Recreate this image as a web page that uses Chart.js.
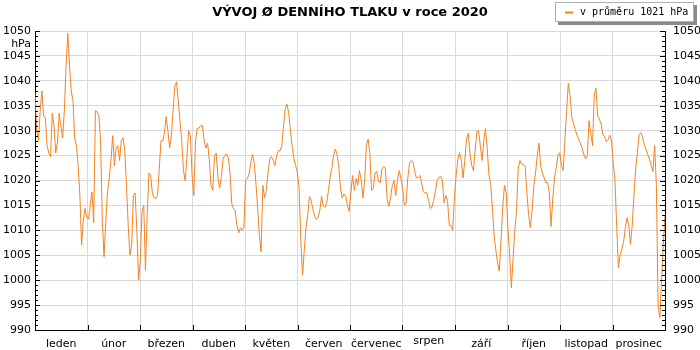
<!DOCTYPE html>
<html lang="cs">
<head>
<meta charset="utf-8">
<title>Vývoj denního tlaku 2020</title>
<script src="https://cdn.jsdelivr.net/npm/chart.js@4.4.1/dist/chart.umd.min.js"></script>
<style>
  html, body { margin: 0; padding: 0; background: #fff; }
  canvas { display: block; }
</style>
</head>
<body>
<canvas id="chart" width="700" height="350"></canvas>
<script>
const TITLE = 'VÝVOJ Ø DENNÍHO TLAKU v roce 2020';
const UNIT = 'hPa';
const AVERAGE = 1021;

const MONTHS = ['leden', 'únor', 'březen', 'duben', 'květen', 'červen',
    'červenec', 'srpen', 'září', 'říjen', 'listopad', 'prosinec'];

const PRESSURE_TICKS = [990, 995, 1000, 1005, 1010, 1015, 1020, 1025, 1030, 1035, 1040, 1045, 1050];

// daily mean pressure, 1 Jan .. 31 Dec 2020 (366 days)
const PRESSURE = [
    1037.5, 1030, 1028, 1034, 1038, 1033, 1032.5, 1027, 1025.5, 1024.8,
    1033.5, 1031, 1025.5, 1027.7, 1033.5, 1031, 1028.5, 1034, 1043, 1049.5,
    1043, 1038, 1036, 1028.5, 1027, 1023, 1017, 1007, 1012, 1014.4,
    1012.5, 1012.3, 1015, 1017.7, 1011.5, 1034, 1033.8, 1033, 1027.8, 1012,
    1004.7, 1011.7, 1017.7, 1020.5, 1024, 1029, 1023, 1026.5, 1027, 1024,
    1028, 1028.6, 1026, 1019, 1011, 1005, 1007, 1017, 1017.5, 1010,
    1000, 1004, 1013.7, 1015, 1002, 1013, 1021.5, 1021, 1017.5, 1016.5,
    1016.4, 1017, 1022.4, 1028, 1028, 1029.5, 1032.8, 1030, 1026.5, 1029,
    1034, 1039, 1039.8, 1036, 1032, 1028, 1022, 1020, 1024.5, 1030,
    1029, 1021, 1017, 1028, 1030.5, 1030.5, 1031, 1031, 1028, 1026.5,
    1027.5, 1024, 1019, 1018, 1025, 1025.5, 1020.5, 1018.5, 1020.8, 1024.5,
    1025, 1025.3, 1024.6, 1021.5, 1015.3, 1014.3, 1014, 1011, 1009.5, 1010.5,
    1010, 1010.5, 1020, 1020.4, 1021.3, 1023.5, 1025.2, 1023.5, 1019.5, 1014.5,
    1009, 1005.7, 1019, 1016.5, 1018, 1021.5, 1024.4, 1024.8, 1024, 1023,
    1025, 1026, 1026, 1027, 1031, 1034.5, 1035.3, 1033.5, 1030, 1026.8,
    1024.5, 1023, 1021.7, 1018.5, 1008, 1001, 1006, 1010.5, 1013, 1016.8,
    1016, 1014.2, 1012.8, 1012.2, 1012.6, 1014, 1016.8, 1015, 1014.6, 1015.5,
    1018, 1020.7, 1022.6, 1025, 1026.3, 1025.3, 1022.8, 1018.5, 1016.5, 1017.3,
    1016.8, 1015, 1013.8, 1017.5, 1021, 1018, 1020.4, 1019, 1022, 1020,
    1016.5, 1020, 1027, 1028.3, 1025.5, 1018, 1018.4, 1021.5, 1021.8, 1019.8,
    1019.5, 1022.3, 1022.8, 1022.5, 1016.3, 1014.8, 1016.5, 1019, 1020, 1017,
    1020, 1022, 1020.5, 1018.3, 1015, 1015.5, 1020.5, 1023.5, 1024, 1023.8,
    1021.8, 1020.5, 1020.6, 1021, 1019.5, 1017.8, 1017.4, 1017.6, 1016, 1014.4,
    1014.7, 1016, 1018, 1020, 1020.6, 1020.8, 1020, 1015.5, 1017, 1016,
    1011, 1011, 1010, 1016.5, 1021, 1024.3, 1025.6, 1024, 1020.5, 1024,
    1028.3, 1029.5, 1025.5, 1023, 1022, 1026, 1029.8, 1030, 1027, 1024,
    1028, 1030.4, 1026.5, 1021, 1019.2, 1014.5, 1009, 1006, 1003.5, 1001.8,
    1008, 1014.8, 1019, 1017.5, 1010.5, 1005, 998.5, 1004.5, 1010, 1014,
    1022.5, 1024, 1023.3, 1023.2, 1022.8, 1017.5, 1013, 1010.5, 1014, 1019,
    1021.5, 1025, 1027.5, 1022.8, 1021.5, 1020.5, 1019.5, 1019.6, 1017.5, 1010.8,
    1016.5, 1020.5, 1022.6, 1025, 1025.6, 1023, 1022, 1028, 1034, 1039.5,
    1037, 1032.8, 1031.4, 1030.2, 1029.1, 1028.3, 1027.4, 1026.5, 1025.2, 1024.3,
    1025, 1032, 1029.5, 1027, 1037, 1038.5, 1033, 1032.3, 1031.3, 1029.2,
    1028.8, 1027.8, 1028.2, 1029.1, 1028, 1023.5, 1020, 1011, 1002.5, 1005,
    1006.2, 1007.6, 1010.5, 1012.5, 1011, 1007.2, 1011, 1017, 1022.3, 1025.5,
    1029.2, 1029.6, 1028.7, 1027.2, 1026.3, 1025.2, 1024.3, 1023, 1021.8, 1027,
    1019, 995, 992.5, 1000, 1007, 1013
];

const LINE_COLOR = '#f58220';
const GRID_COLOR = '#d9d9d9';
const FONT = '"DejaVu Sans", Verdana, sans-serif';

Chart.defaults.font.family = FONT;
Chart.defaults.font.size = 11;
Chart.defaults.color = '#000';

const lastDay = PRESSURE.length - 1;
const monthEdge = i => i * lastDay / MONTHS.length;
const plainNumber = v => String(v);

// inward ticks, month ticks, unit, legend box
const decorations = {
    id: 'decorations',
    afterDraw(chart) {
        const { ctx, chartArea: area, scales } = chart;
        const y = scales.y, x = scales.x, m = scales.months;
        ctx.save();
        ctx.strokeStyle = '#000';
        ctx.lineWidth = 1;
        ctx.beginPath();
        for (let v = PRESSURE_TICKS[0]; v <= PRESSURE_TICKS[PRESSURE_TICKS.length - 1]; v++) {
            const py = Math.round(y.getPixelForValue(v)) + 0.5;
            const len = PRESSURE_TICKS.includes(v) ? 5 : 3;
            ctx.moveTo(area.left, py); ctx.lineTo(area.left + len, py);
            ctx.moveTo(area.right, py); ctx.lineTo(area.right - len, py);
        }
        for (let i = 1; i < MONTHS.length; i++) {
            const px = Math.round(x.getPixelForValue(monthEdge(i))) + 0.5;
            ctx.moveTo(px, area.bottom); ctx.lineTo(px, area.bottom - 5);
        }
        ctx.stroke();

        ctx.fillStyle = '#000';
        ctx.font = '11px ' + FONT;
        ctx.textAlign = 'right';
        ctx.textBaseline = 'middle';
        ctx.fillText(UNIT, area.left - 4, area.top + 13);

        // "srpen" sits a little higher than the other month names
        ctx.textAlign = 'center';
        ctx.textBaseline = 'top';
        ctx.fillText(MONTHS[7], m.getPixelForTick(7), m.top + 6);

        // legend
        const ds = chart.data.datasets[0];
        const bx = 555, by = 2, bw = 139, bh = 20;
        ctx.fillStyle = '#8a8a8a';
        ctx.fillRect(bx + 3, by + 3, bw, bh);
        ctx.fillStyle = '#fff';
        ctx.fillRect(bx, by, bw, bh);
        ctx.strokeStyle = '#b0b0b0';
        ctx.strokeRect(bx + 0.5, by + 0.5, bw - 1, bh - 1);
        ctx.strokeStyle = ds.borderColor;
        ctx.lineWidth = 2;
        ctx.beginPath();
        ctx.moveTo(bx + 10, by + 10.5); ctx.lineTo(bx + 18, by + 10.5);
        ctx.stroke();
        ctx.fillStyle = '#000';
        ctx.font = '10px "DejaVu Sans Mono", monospace';
        ctx.textAlign = 'left';
        ctx.textBaseline = 'middle';
        ctx.fillText(ds.label, bx + 25, by + 10.5);
        ctx.restore();
    }
};

new Chart(document.getElementById('chart'), {
    type: 'line',
    data: {
        datasets: [{
            label: `v průměru ${AVERAGE} ${UNIT}`,
            data: PRESSURE.map((v, i) => ({ x: i, y: v })),
            borderColor: LINE_COLOR,
            borderWidth: 1,
            pointRadius: 0,
            tension: 0
        }]
    },
    options: {
        responsive: false,
        animation: false,
        devicePixelRatio: 1,
        layout: { padding: 0 },
        plugins: {
            legend: { display: false },
            tooltip: { enabled: false },
            title: {
                display: true,
                text: TITLE,
                color: '#000',
                font: { size: 13, weight: 'bold' },
                padding: { top: 5, bottom: 10.4 }
            }
        },
        scales: {
            x: {
                type: 'linear',
                min: 0,
                max: lastDay,
                weight: 0,
                afterBuildTicks: s => { s.ticks = MONTHS.map((_, i) => ({ value: monthEdge(i) })).concat([{ value: lastDay }]); },
                ticks: { display: false },
                grid: { color: GRID_COLOR, drawTicks: false },
                border: { color: '#000' },
                afterFit: s => { s.height = 0; }
            },
            months: {
                type: 'category',
                labels: MONTHS,
                position: 'bottom',
                offset: true,
                weight: 1,
                grid: { display: false, drawTicks: false },
                border: { display: false },
                ticks: {
                    padding: 8,
                    autoSkip: false,
                    maxRotation: 0,
                    color: c => c.index === 7 ? 'rgba(0,0,0,0)' : '#000'
                },
                afterFit: s => { s.height = 20; }
            },
            y: {
                position: 'left',
                min: PRESSURE_TICKS[0],
                max: PRESSURE_TICKS[PRESSURE_TICKS.length - 1],
                afterBuildTicks: s => { s.ticks = PRESSURE_TICKS.map(v => ({ value: v })); },
                ticks: { padding: 4, callback: plainNumber },
                grid: { color: GRID_COLOR, drawTicks: false },
                border: { color: '#000' },
                afterFit: s => { s.width = 35; }
            },
            y2: {
                position: 'right',
                min: PRESSURE_TICKS[0],
                max: PRESSURE_TICKS[PRESSURE_TICKS.length - 1],
                afterBuildTicks: s => { s.ticks = PRESSURE_TICKS.map(v => ({ value: v })); },
                ticks: { padding: 8, callback: plainNumber },
                grid: { display: false, drawTicks: false },
                border: { color: '#000' },
                afterFit: s => { s.width = 35; }
            }
        }
    },
    plugins: [decorations]
});
</script>
</body>
</html>
